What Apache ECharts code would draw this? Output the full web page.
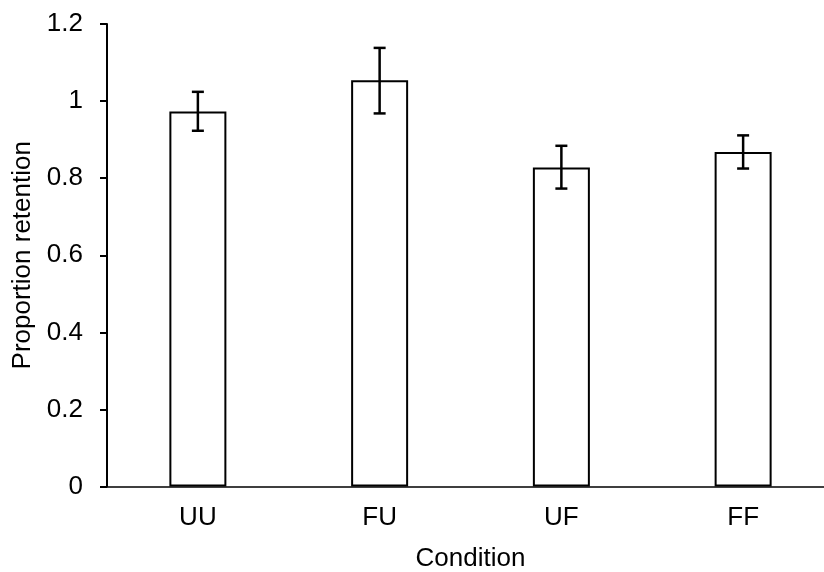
<!DOCTYPE html>
<html>
<head>
<meta charset="utf-8">
<script src="https://cdn.jsdelivr.net/npm/echarts@6/dist/echarts.min.js"></script>
<style>html,body{margin:0;padding:0;background:#fff}#c{width:824px;height:572px}</style>
</head>
<body>
<div id="c"></div>
<script>
var categories = ['UU', 'FU', 'UF', 'FF'];
var means = [0.973, 1.054, 0.828, 0.868];
var errUpper = [1.024, 1.138, 0.884, 0.911];
var errLower = [0.923, 0.968, 0.773, 0.825];
var yTicks = [0, 0.2, 0.4, 0.6, 0.8, 1, 1.2];

var chart = echarts.init(document.getElementById('c'), null, {renderer: 'canvas'});
var FONT = '"Liberation Sans", Arial, sans-serif';
var FS = 26;
var errData = categories.map(function (c, i) { return [i, errLower[i], errUpper[i]]; });

chart.setOption({
  animation: false,
  backgroundColor: '#ffffff',
  grid: {left: 107, right: -10, top: 24, bottom: 85.5, containLabel: false, outerBoundsMode: 'none'},
  xAxis: {
    type: 'category',
    data: categories,
    name: 'Condition',
    nameLocation: 'middle',
    nameGap: 59,
    nameTextStyle: {fontFamily: FONT, fontSize: FS, color: '#000'},
    axisLine: {lineStyle: {color: '#000', width: 1.5}},
    axisTick: {show: false},
    axisLabel: {fontFamily: FONT, fontSize: FS, color: '#000', margin: 18}
  },
  yAxis: {
    type: 'value',
    min: yTicks[0],
    max: yTicks[yTicks.length - 1],
    interval: 0.2,
    name: 'Proportion retention',
    nameLocation: 'middle',
    nameGap: 63,
    nameTextStyle: {fontFamily: FONT, fontSize: FS, color: '#000'},
    axisLine: {show: true, lineStyle: {color: '#000', width: 2}},
    axisTick: {show: true, length: 7, lineStyle: {color: '#000', width: 2}},
    splitLine: {show: false},
    axisLabel: {fontFamily: FONT, fontSize: FS, color: '#000', margin: 24,
      formatter: function (v) { return String(Math.round(v * 10) / 10); }}
  },
  series: [
    {
      type: 'bar',
      data: means,
      barWidth: 57,
      itemStyle: {color: '#ffffff', borderColor: '#000', borderWidth: 2}
    },
    {
      type: 'custom',
      data: errData,
      z: 10,
      renderItem: function (params, api) {
        var x = api.value(0);
        var lo = api.coord([x, api.value(1)]);
        var hi = api.coord([x, api.value(2)]);
        var hw = 6;
        var st = {stroke: '#000', lineWidth: 2.5, fill: null};
        return {
          type: 'group',
          children: [
            {type: 'line', shape: {x1: hi[0], y1: hi[1], x2: lo[0], y2: lo[1]}, style: st},
            {type: 'line', shape: {x1: hi[0] - hw, y1: hi[1], x2: hi[0] + hw, y2: hi[1]}, style: st},
            {type: 'line', shape: {x1: lo[0] - hw, y1: lo[1], x2: lo[0] + hw, y2: lo[1]}, style: st}
          ]
        };
      }
    }
  ]
});
</script>
</body>
</html>
